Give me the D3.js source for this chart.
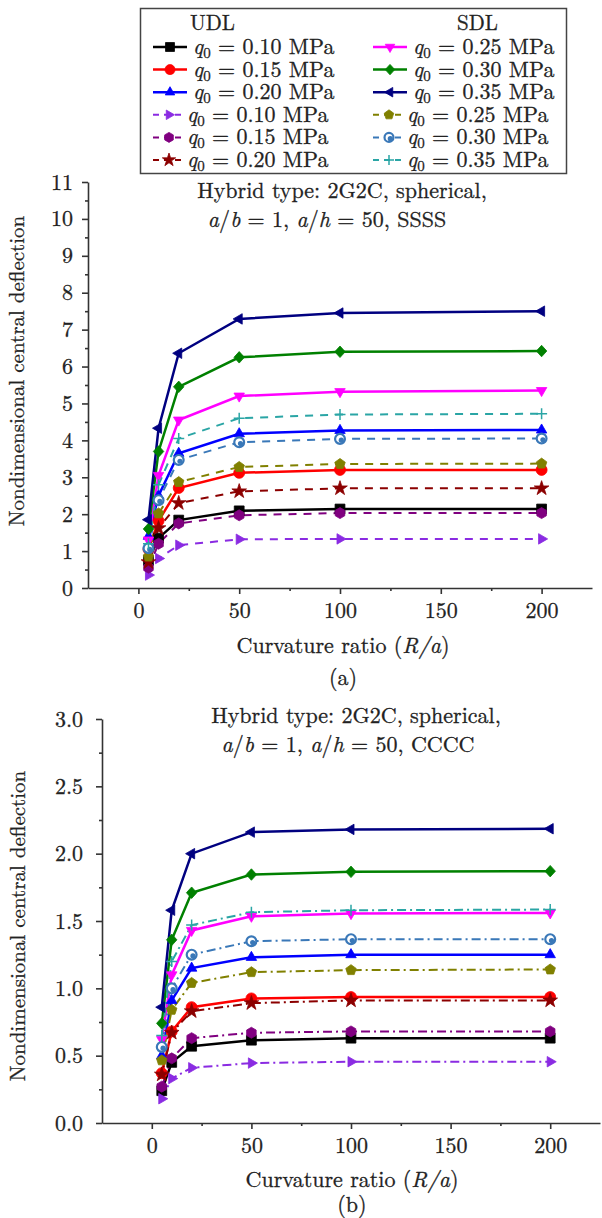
<!DOCTYPE html>
<html lang="en">
<head>
<meta charset="UTF-8">
<title>Central deflection vs curvature ratio</title>
<style>
  body { margin: 0; background: #fff; }
</style>
</head>
<body>
<svg id="fig" width="602" height="1218" font-family="Latin Modern Roman, Liberation Serif, serif"></svg>
<script src="https://cdn.jsdelivr.net/npm/d3@7"></script>
<script>
// curvature ratios R/a
var ratios = [5, 10, 20, 50, 100, 200];

// legend: load type and q0 (MPa) of each series
var loadType = ["UDL", "UDL", "UDL", "UDL", "UDL", "UDL", "SDL", "SDL", "SDL", "SDL", "SDL", "SDL"];
var loadValue = ["0.10", "0.15", "0.20", "0.10", "0.15", "0.20", "0.25", "0.30", "0.35", "0.25", "0.30", "0.35"];

// (a) SSSS
var ssss = [
  [0.75, 1.35, 1.84, 2.09, 2.14, 2.14],
  [1.05, 1.82, 2.71, 3.12, 3.20, 3.20],
  [1.40, 2.50, 3.65, 4.18, 4.27, 4.28],
  [0.35, 0.80, 1.16, 1.32, 1.33, 1.33],
  [0.55, 1.20, 1.75, 1.97, 2.03, 2.03],
  [0.70, 1.62, 2.30, 2.62, 2.70, 2.70],
  [1.30, 3.05, 4.55, 5.20, 5.32, 5.35],
  [1.60, 3.70, 5.45, 6.25, 6.40, 6.42],
  [1.85, 4.33, 6.36, 7.29, 7.45, 7.50],
  [0.85, 2.02, 2.87, 3.28, 3.36, 3.37],
  [1.08, 2.38, 3.47, 3.95, 4.04, 4.05],
  [1.20, 2.80, 4.05, 4.60, 4.70, 4.72]
];

// (b) CCCC
var cccc = [
  [0.24, 0.45, 0.57, 0.615, 0.63, 0.63],
  [0.37, 0.68, 0.86, 0.925, 0.935, 0.935],
  [0.50, 0.91, 1.15, 1.23, 1.25, 1.25],
  [0.18, 0.33, 0.41, 0.445, 0.455, 0.455],
  [0.27, 0.48, 0.63, 0.67, 0.68, 0.68],
  [0.36, 0.67, 0.83, 0.89, 0.91, 0.91],
  [0.62, 1.10, 1.43, 1.535, 1.555, 1.56],
  [0.74, 1.36, 1.71, 1.845, 1.865, 1.87],
  [0.86, 1.58, 2.00, 2.16, 2.18, 2.185],
  [0.465, 0.84, 1.04, 1.12, 1.135, 1.14],
  [0.565, 1.00, 1.25, 1.35, 1.365, 1.365],
  [0.65, 1.20, 1.47, 1.565, 1.58, 1.585]
];

var xTicks = [0, 50, 100, 150, 200];
var xMinor = [25, 75, 125, 175];
var yTicksA = d3.range(0, 12, 1);
var yMinorA = d3.range(0.5, 11, 1);
var yTicksB = [0, 0.5, 1.0, 1.5, 2.0, 2.5, 3.0];
var yMinorB = [0.25, 0.75, 1.25, 1.75, 2.25, 2.75];

// styles
var colors = ["#000000", "#ff0000", "#0000ff", "#8a2be2", "#800080", "#8b0000",
              "#ff00ff", "#008000", "#000080", "#808000", "#3a78b8", "#2aa5a5"];
var markers = ["square", "circle", "triUp", "triRight", "hexagon", "star",
               "triDown", "diamond", "triLeft", "pentagon", "ring", "plus"];
var dashed = [false, false, false, true, true, true, false, false, false, true, true, true];

var FONT = "Latin Modern Roman, Liberation Serif, serif";
var svg = d3.select("#fig");

function poly(n, r, rot, sy) {
  var p = d3.path();
  for (var k = 0; k < n; k++) {
    var a = rot + 2 * Math.PI * k / n;
    var px = r * Math.cos(a), py = r * Math.sin(a) * (sy || 1);
    if (k === 0) p.moveTo(px, py); else p.lineTo(px, py);
  }
  p.closePath();
  return p.toString();
}

function markerPath(name, r) {
  var d = Math.PI / 180;
  switch (name) {
    case "square": return d3.symbol(d3.symbolSquare, 4 * r * r * 0.8)();
    case "circle": return d3.symbol(d3.symbolCircle, Math.PI * r * r)();
    case "ring": return d3.symbol(d3.symbolCircle, Math.PI * r * r * 0.8)();
    case "star": return d3.symbol(d3.symbolStar, r * r * 2.2)();
    case "triUp": return poly(3, r * 1.1, -90 * d);
    case "triDown": return poly(3, r * 1.1, 90 * d);
    case "triLeft": return poly(3, r * 1.1, 180 * d);
    case "triRight": return poly(3, r * 1.1, 0);
    case "hexagon": return poly(6, r, -90 * d);
    case "pentagon": return poly(5, r, -90 * d);
    case "diamond": return poly(4, r * 0.95, 0, 1.1);
    case "plus": return "M" + (-r) + ",0H" + r + "M0," + (-r) + "V" + r;
  }
}

function drawMarker(g, i, cx, cy, r) {
  var m = markers[i];
  var p = g.append("path")
    .attr("d", markerPath(m, r))
    .attr("transform", "translate(" + cx + "," + cy + ")");
  if (m === "plus") {
    p.attr("fill", "none").attr("stroke", colors[i]).attr("stroke-width", 1.5);
  } else if (m === "ring") {
    p.attr("fill", "#fff").attr("stroke", colors[i]).attr("stroke-width", 2.2);
    g.append("circle").attr("cx", cx + 1.3).attr("cy", cy + 1.3).attr("r", 2.6).attr("fill", colors[i]);
  } else {
    p.attr("fill", colors[i]).attr("stroke", colors[i]).attr("stroke-width", 0.8);
  }
}

function styleAxis(a) {
  a.attr("font-family", FONT).attr("font-size", 22);
  a.selectAll("path, line").attr("stroke", "#333").attr("stroke-width", 1.6);
}

function drawPanel(cfg) {
  var x = d3.scaleLinear().domain([-25, 225]).range([cfg.left, cfg.right]);
  var y = d3.scaleLinear().domain([0, cfg.yMax]).range([cfg.bottom, cfg.top]);
  var g = svg.append("g");

  // axes
  g.append("g")
    .attr("transform", "translate(0," + cfg.bottom + ")")
    .call(d3.axisBottom(x).tickValues(xTicks).tickSize(6).tickSizeOuter(0).tickPadding(8))
    .call(styleAxis);
  g.append("g")
    .attr("transform", "translate(0," + cfg.bottom + ")")
    .call(d3.axisBottom(x).tickValues(xMinor).tickSize(3).tickSizeOuter(0).tickFormat(""))
    .call(styleAxis)
    .select(".domain").remove();
  g.append("g")
    .attr("transform", "translate(" + cfg.left + ",0)")
    .call(d3.axisLeft(y).tickValues(cfg.yTicks).tickSize(6).tickSizeOuter(0).tickPadding(cfg.yPad).tickFormat(cfg.fmt))
    .call(styleAxis);
  g.append("g")
    .attr("transform", "translate(" + cfg.left + ",0)")
    .call(d3.axisLeft(y).tickValues(cfg.yMinor).tickSize(3).tickFormat(""))
    .call(styleAxis)
    .select(".domain").remove();

  // series lines then markers
  var line = d3.line().x(function (d, j) { return x(ratios[j]); }).y(function (d) { return y(d); });
  cfg.data.forEach(function (vals, i) {
    g.append("path")
      .attr("d", line(vals))
      .attr("fill", "none")
      .attr("stroke", colors[i])
      .attr("stroke-width", dashed[i] ? 2 : 2.5)
      .attr("stroke-dasharray", dashed[i] ? cfg.dash : null);
  });
  cfg.data.forEach(function (vals, i) {
    vals.forEach(function (v, j) { drawMarker(g, i, x(ratios[j]), y(v), 5.5); });
  });

  // annotation
  g.append("text").attr("x", cfg.t1x).attr("y", cfg.top + cfg.t1).attr("text-anchor", "middle")
    .attr("font-size", 22).text("Hybrid type: 2G2C, spherical,");
  var t2 = g.append("text").attr("x", cfg.t2x).attr("y", cfg.top + cfg.t1 + 29).attr("text-anchor", "middle")
    .attr("font-size", 22);
  t2.append("tspan").attr("font-style", "italic").text("a");
  t2.append("tspan").text("/");
  t2.append("tspan").attr("font-style", "italic").text("b");
  t2.append("tspan").text(" = 1, ");
  t2.append("tspan").attr("font-style", "italic").text("a");
  t2.append("tspan").text("/");
  t2.append("tspan").attr("font-style", "italic").text("h");
  t2.append("tspan").text(" = 50, " + cfg.bc);

  // axis titles
  var xt = g.append("text").attr("x", cfg.xTitleX).attr("y", cfg.bottom + cfg.xtY)
    .attr("text-anchor", "middle").attr("font-size", 22);
  xt.append("tspan").text("Curvature ratio (");
  xt.append("tspan").attr("font-style", "italic").text("R/a");
  xt.append("tspan").text(")");
  g.append("text").attr("x", cfg.capX).attr("y", cfg.bottom + cfg.capY)
    .attr("text-anchor", "middle").attr("font-size", 22).text(cfg.cap);
  g.append("text")
    .attr("transform", "translate(" + cfg.yTitleX + "," + cfg.yTitleY + ") rotate(-90)")
    .attr("text-anchor", "middle").attr("font-size", 21)
    .text("Nondimensional central deflection");
}

drawPanel({ left: 88, right: 592, top: 182, bottom: 588, yMax: 11, yTicks: yTicksA, yMinor: yMinorA, yPad: 9,
  fmt: d3.format("d"), data: ssss, dash: "8,7", bc: "SSSS", t1: 16, t1x: 342, t2x: 327,
  xTitleX: 343, xtY: 65, capX: 343, capY: 97, cap: "(a)", yTitleX: 24, yTitleY: 371 });
drawPanel({ left: 102, right: 600, top: 719, bottom: 1123, yMax: 3, yTicks: yTicksB, yMinor: yMinorB, yPad: 13,
  fmt: d3.format(".1f"), data: cccc, dash: "9,4,2,4", bc: "CCCC", t1: 4, t1x: 356, t2x: 348,
  xTitleX: 352, xtY: 64, capX: 352, capY: 89, cap: "(b)", yTitleX: 25, yTitleY: 926 });

// legend
var lg = svg.append("g");
lg.append("rect").attr("x", 140.5).attr("y", 8.5).attr("width", 426).attr("height", 165)
  .attr("fill", "#fff").attr("stroke", "#444").attr("stroke-width", 1.5);
lg.append("text").attr("x", 190).attr("y", 30).attr("font-size", 21).text("UDL");
lg.append("text").attr("x", 457).attr("y", 30).attr("font-size", 21).text("SDL");
loadValue.forEach(function (q, i) {
  var col = loadType[i] === "UDL" ? 0 : 1;
  var row = i % 6;
  var x0 = col === 0 ? 153 : 373;
  var cy = 47 + row * 22.6;
  var len = dashed[i] ? 28 : 34;
  lg.append("line").attr("x1", x0).attr("x2", x0 + len).attr("y1", cy).attr("y2", cy)
    .attr("stroke", colors[i]).attr("stroke-width", dashed[i] ? 2 : 2.5)
    .attr("stroke-dasharray", dashed[i] ? "6,5" : null);
  drawMarker(lg, i, x0 + len / 2 + (dashed[i] ? 2 : 0), cy, 5);
  var t = lg.append("text").attr("x", x0 + len + 6).attr("y", cy + 7).attr("font-size", 22);
  t.append("tspan").attr("font-style", "italic").text("q");
  t.append("tspan").attr("dy", 4).attr("font-size", 15).text("0");
  t.append("tspan").attr("dy", -4).text(" = " + q + " MPa");
});

// scanned print looks slightly heavier than Latin Modern
svg.selectAll("text").attr("fill", "#222").attr("stroke", "#222").attr("stroke-width", 0.3);
</script>
</body>
</html>
